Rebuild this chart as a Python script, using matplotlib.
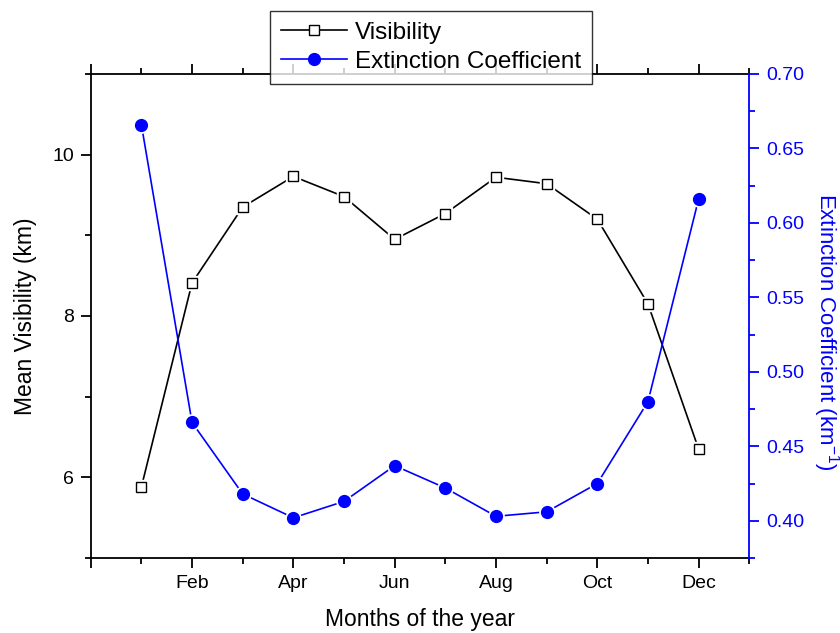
#%%
# Libraries
import numpy as np
import matplotlib
matplotlib.use("Agg")
import matplotlib.pyplot as plt
from matplotlib.ticker import MultipleLocator, FuncFormatter

#%%
# Monthly data
meses = [1, 2, 3, 4, 5, 6, 7, 8, 9, 10, 11, 12]
nombres_meses = ["", "Jan", "Feb", "Mar", "Apr", "May", "Jun",
                 "Jul", "Aug", "Sep", "Oct", "Nov", "Dec"]
visibilidad = [5.88, 8.41, 9.35, 9.73, 9.48, 8.95, 9.27, 9.72, 9.64, 9.20, 8.15, 6.35]
extincion = [0.666, 0.466, 0.418, 0.402, 0.413, 0.437, 0.422, 0.403, 0.406, 0.425, 0.480, 0.616]

#%%
# General style
plt.rcParams["font.family"] = ["Liberation Sans", "DejaVu Sans"]
plt.rcParams["mathtext.fontset"] = "custom"
plt.rcParams["mathtext.rm"] = "Liberation Sans"
plt.rcParams["mathtext.it"] = "Liberation Sans"
azul = "#0000ff"

fig = plt.figure(figsize=(8.4, 6.33), dpi=100)
ax = fig.add_axes([0.108, 0.1185, 0.784, 0.7646])
ax2 = ax.twinx()

#%%
# Visibility (left axis), white halo so the line stops short of the marker
ax.plot(meses, visibilidad, color="black", lw=1.2, zorder=2)
ax.plot(meses, visibilidad, ls="none", marker="s", ms=10, mfc="white", mec="white", zorder=3)
ax.plot(meses, visibilidad, ls="none", marker="s", ms=7.5, mfc="white", mec="black",
        mew=1.0, zorder=4)
h1, = ax.plot([], [], color="black", lw=1.2, marker="s", ms=7.5, mfc="white",
              mec="black", mew=1.0, label="Visibility")

# Extinction coefficient (right axis)
ax2.plot(meses, extincion, color=azul, lw=1.2, zorder=2)
ax2.plot(meses, extincion, ls="none", marker="o", ms=11, mfc="white", mec="white", zorder=3)
ax2.plot(meses, extincion, ls="none", marker="o", ms=8.5, mfc=azul, mec=azul, zorder=4)
h2, = ax2.plot([], [], color=azul, lw=1.2, marker="o", ms=8.5, mfc=azul, mec=azul,
               label="Extinction Coefficient")

#%%
# Axes limits and ticks
ax.set_xlim(0, 13)
ax.set_ylim(5, 11)
ax2.set_ylim(0.375, 0.70)

ax.xaxis.set_major_locator(MultipleLocator(2))
ax.xaxis.set_minor_locator(MultipleLocator(1))
ax.xaxis.set_major_formatter(FuncFormatter(lambda v, p: nombres_meses[int(round(v))] if 1 <= v <= 12 else ""))
ax.yaxis.set_major_locator(MultipleLocator(2))
ax.yaxis.set_minor_locator(MultipleLocator(1))
ax2.yaxis.set_major_locator(MultipleLocator(0.05))
ax2.yaxis.set_minor_locator(MultipleLocator(0.025))
ax2.yaxis.set_major_formatter(FuncFormatter(lambda v, p: f"{v:.2f}"))

ax.tick_params(axis="both", which="major", direction="out", length=7, width=1.3, labelsize=14, pad=5)
ax.tick_params(axis="both", which="minor", direction="out", length=4, width=1.3)
ax.tick_params(axis="x", which="both", top=True)
ax.tick_params(axis="y", which="both", right=False)
ax2.tick_params(axis="y", which="major", direction="out", length=7, width=1.3,
                labelsize=14, pad=5, colors=azul)
ax2.tick_params(axis="y", which="minor", direction="out", length=4, width=1.3, colors=azul)

for lado in ["left", "bottom", "top"]:
    ax.spines[lado].set_linewidth(1.3)
for lado in ["left", "bottom", "top"]:
    ax2.spines[lado].set_visible(False)
ax2.spines["right"].set_color(azul)
ax2.spines["right"].set_linewidth(1.3)
ax.spines["right"].set_visible(False)

#%%
# Labels
ax.set_xlabel("Months of the year", fontsize=16.5, labelpad=12)
ax.set_ylabel("Mean Visibility (km)", fontsize=16.5, labelpad=11)
ax2.set_ylabel("Extinction Coefficient (km$^{-1}$)", fontsize=16, color=azul,
               rotation=270, va="bottom")
ax2.yaxis.set_label_coords(1.093, 0.467)

#%%
# Legend sitting over the top spine
leg = fig.legend(handles=[h1, h2], loc="upper left", bbox_to_anchor=(270 / 840, 1 - 10.7 / 633),
                 fontsize=17.5, frameon=True, fancybox=False, edgecolor="black",
                 handlelength=2.7, handletextpad=0.35, borderpad=0.45, labelspacing=0.3,
                 borderaxespad=0)
leg.get_frame().set_linewidth(1.0)

fig.savefig("out.png", dpi=100)
